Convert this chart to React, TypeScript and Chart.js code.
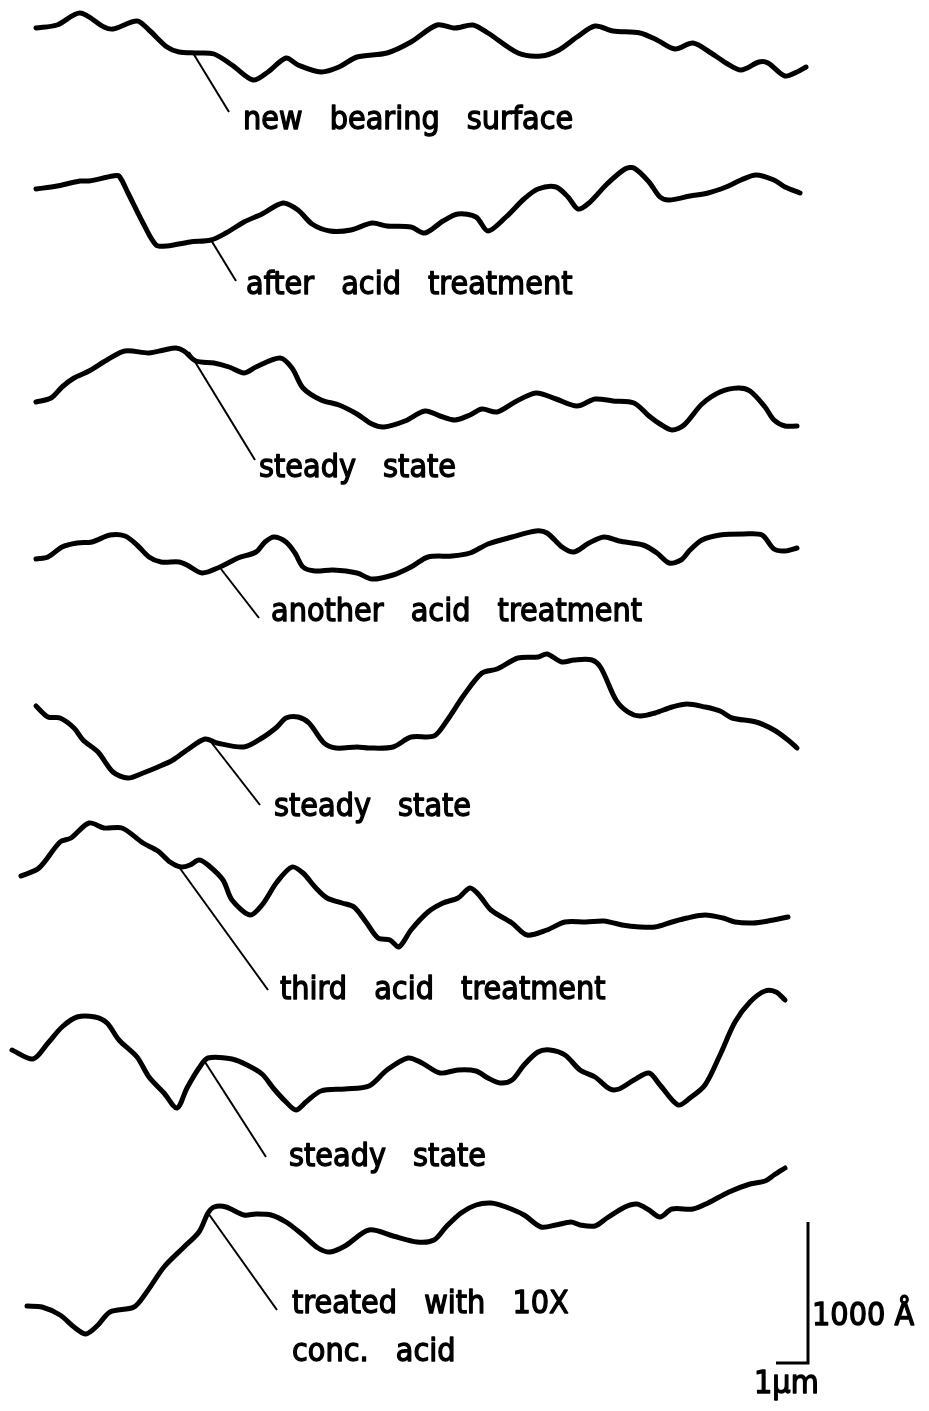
import React, { useEffect, useRef } from "react";
import { Chart, registerables } from "chart.js";

Chart.register(...registerables);

// Lateral position (x) and depth (y, downward) of each surface profile
const profile1X = [36,57,80,104,113,137,149,167,179,196,214,232,253,268,286,298,321,339,357,387,411,437,455,473,488,518,541,559,577,595,613,640,657,675,693,711,726,741,759,768,785,797,806];
const profile1Y = [28,25,13,27,29,21,30,47,52,53,54,65,80,72,58,65,72,67,57,53,42,25,28,25,33,53,56,50,37,26,31,33,40,49,43,53,63,70,62,63,76,72,67];
const profile2X = [36,57,80,89,113,119,128,143,156,167,190,211,226,244,262,283,298,312,330,351,372,387,411,425,443,458,476,488,506,524,538,556,568,578,589,607,625,634,649,660,669,690,708,726,741,756,774,785,800];
const profile2Y = [189,186,181,181,176,176,193,223,245,246,242,240,233,222,214,203,210,224,231,230,223,226,227,233,221,214,217,231,217,199,189,187,197,209,203,184,169,168,182,197,200,196,193,187,180,175,180,187,193];
const profile3X = [36,51,62,74,89,107,125,149,164,176,184,196,214,229,244,256,280,292,303,321,339,357,372,384,405,425,440,455,470,482,497,515,536,556,577,595,613,634,649,660,672,684,702,720,738,750,765,774,785,797];
const profile3Y = [402,398,387,378,371,360,351,353,350,348,351,361,363,367,373,367,358,368,388,400,405,414,424,427,421,411,416,420,415,409,412,402,393,399,406,399,401,403,416,424,430,425,404,392,388,391,407,420,426,426];
const profile4X = [36,48,62,77,92,110,125,137,149,161,179,187,202,220,238,256,265,274,286,295,303,315,333,357,372,393,411,428,452,470,488,512,536,547,562,574,589,604,619,643,657,669,681,690,702,720,744,762,774,785,797];
const profile4Y = [559,557,547,543,542,535,536,545,557,562,562,565,573,567,558,552,542,537,542,553,567,571,570,573,579,575,567,557,556,553,544,537,531,533,547,552,543,537,541,545,553,563,560,550,540,535,534,535,549,551,548];
const profile5X = [36,48,60,74,83,98,113,128,143,158,173,187,205,217,244,262,277,286,298,309,324,336,357,369,393,411,434,446,464,482,497,518,538,547,562,574,592,601,616,628,640,655,672,687,705,720,732,756,774,788,797];
const profile5Y = [706,717,718,728,740,752,772,778,773,767,760,750,739,743,747,738,727,718,717,723,743,748,747,748,747,737,736,722,695,673,669,658,657,654,662,660,660,668,700,712,716,713,707,704,707,711,718,722,730,740,748];
const profile6X = [21,39,60,71,89,104,122,143,158,170,181,190,199,208,223,232,250,262,277,292,303,315,327,342,354,366,378,390,399,411,428,443,458,470,479,491,512,527,547,565,586,604,622,640,655,672,687,705,723,735,753,768,788];
const profile6Y = [876,868,842,838,823,828,828,843,851,862,867,865,860,865,880,900,915,905,882,867,873,887,898,903,907,922,938,940,947,930,912,903,898,888,895,910,923,935,930,922,922,921,925,927,927,922,918,915,918,922,923,921,917];
const profile7X = [12,33,48,62,77,95,107,119,137,149,164,177,187,199,208,232,247,262,274,286,296,306,321,345,369,387,408,422,440,458,476,488,500,512,524,538,550,565,580,595,610,619,634,649,660,678,690,705,720,735,750,765,776,785];
const profile7Y = [1050,1059,1043,1027,1017,1017,1023,1040,1057,1077,1093,1108,1088,1068,1058,1059,1065,1074,1089,1102,1110,1102,1091,1089,1086,1070,1058,1063,1073,1070,1071,1078,1083,1080,1065,1052,1050,1055,1070,1077,1089,1089,1080,1073,1085,1105,1098,1085,1055,1022,1002,991,992,1000];
const profile8X = [27,42,60,74,86,98,110,134,146,164,184,199,208,214,226,244,256,271,286,303,318,330,345,369,393,417,434,446,461,476,491,506,524,541,556,571,580,595,607,625,637,649,660,672,693,708,729,750,765,774,785];
const profile8Y = [1306,1307,1315,1327,1334,1325,1312,1307,1293,1267,1247,1232,1213,1207,1207,1215,1214,1215,1222,1235,1248,1252,1246,1230,1236,1242,1240,1227,1213,1205,1203,1207,1215,1227,1225,1222,1225,1226,1218,1207,1204,1210,1217,1209,1209,1203,1192,1184,1181,1175,1168];

const profilesX = [profile1X, profile2X, profile3X, profile4X, profile5X, profile6X, profile7X, profile8X];
const profilesY = [profile1Y, profile2Y, profile3Y, profile4Y, profile5Y, profile6Y, profile7Y, profile8Y];

// Leader lines (from profile point to label)
const leaderFromX = [193, 211, 189, 221, 211, 179, 205, 208];
const leaderFromY = [53, 240, 352, 569, 742, 867, 1062, 1213];
const leaderToX = [229, 236, 255, 259, 260, 268, 266, 277];
const leaderToY = [112, 281, 460, 618, 805, 990, 1157, 1310];

// Labels
const labelTexts = [
  "new bearing surface",
  "after acid treatment",
  "steady state",
  "another acid treatment",
  "steady state",
  "third acid treatment",
  "steady state",
  "treated with 10X",
  "conc. acid",
];
const labelX = [243, 246, 259, 271, 274, 280, 289, 292, 292];
const labelY = [129, 294, 477, 621, 816, 999, 1166, 1313, 1361];

// Scale bar
const scaleBarX = [776, 808, 808];
const scaleBarY = [1363, 1363, 1222];
const scaleTexts = ["1000 Å", "1μm"];
const scaleTextX = [812, 754];
const scaleTextY = [1325, 1393];

const FONT = '32px "DejaVu Sans Condensed", "DejaVu Sans", sans-serif';

export default function App() {
  const ref = useRef<HTMLCanvasElement | null>(null);
  useEffect(() => {
    const canvas = ref.current;
    if (!canvas) return;
    const datasets: any[] = [];
    profilesX.forEach((xs, i) => {
      datasets.push({
        data: xs.map((x, j) => ({ x, y: profilesY[i][j] })),
        borderColor: "#000",
        borderWidth: 5,
        tension: 0.3,
        pointRadius: 0,
        showLine: true,
        borderCapStyle: "round",
        borderJoinStyle: "round",
        clip: false,
      });
    });
    leaderFromX.forEach((x, i) => {
      datasets.push({
        data: [
          { x, y: leaderFromY[i] },
          { x: leaderToX[i], y: leaderToY[i] },
        ],
        borderColor: "#000",
        borderWidth: 2,
        tension: 0,
        pointRadius: 0,
        showLine: true,
        clip: false,
      });
    });
    datasets.push({
      data: scaleBarX.map((x, j) => ({ x, y: scaleBarY[j] })),
      borderColor: "#000",
      borderWidth: 3,
      tension: 0,
      pointRadius: 0,
      showLine: true,
      clip: false,
    });

    const textPlugin = {
      id: "textPlugin",
      afterDatasetsDraw(chart: any) {
        const { ctx, scales } = chart;
        ctx.save();
        ctx.fillStyle = "#000";
        ctx.strokeStyle = "#000";
        ctx.lineWidth = 1.3;
        ctx.lineJoin = "round";
        ctx.textBaseline = "alphabetic";
        ctx.textAlign = "left";
        ctx.font = FONT;
        try { (ctx as any).wordSpacing = "18px"; } catch (e) {}
        labelTexts.forEach((t, i) => {
          const px = scales.x.getPixelForValue(labelX[i]);
          const py = scales.y.getPixelForValue(labelY[i]);
          ctx.fillText(t, px, py);
          ctx.strokeText(t, px, py);
        });
        try { (ctx as any).wordSpacing = "0px"; } catch (e) {}
        scaleTexts.forEach((t, i) => {
          const px = scales.x.getPixelForValue(scaleTextX[i]);
          const py = scales.y.getPixelForValue(scaleTextY[i]);
          ctx.fillText(t, px, py);
          ctx.strokeText(t, px, py);
        });
        ctx.restore();
      },
    };

    const chart = new Chart(canvas, {
      type: "scatter",
      data: { datasets },
      options: {
        animation: false,
        responsive: false,
        devicePixelRatio: 1,
        layout: { padding: 0 },
        plugins: { legend: { display: false }, tooltip: { enabled: false } },
        events: [],
        scales: {
          x: { type: "linear", min: 0, max: 929, display: false },
          y: { type: "linear", min: 0, max: 1411, reverse: true, display: false },
        },
      },
      plugins: [textPlugin],
    });
    return () => chart.destroy();
  }, []);
  return (
    <div style={{ position: "absolute", left: 0, top: 0, background: "#fff" }}>
      <canvas ref={ref} width={929} height={1411} style={{ display: "block" }} />
    </div>
  );
}
